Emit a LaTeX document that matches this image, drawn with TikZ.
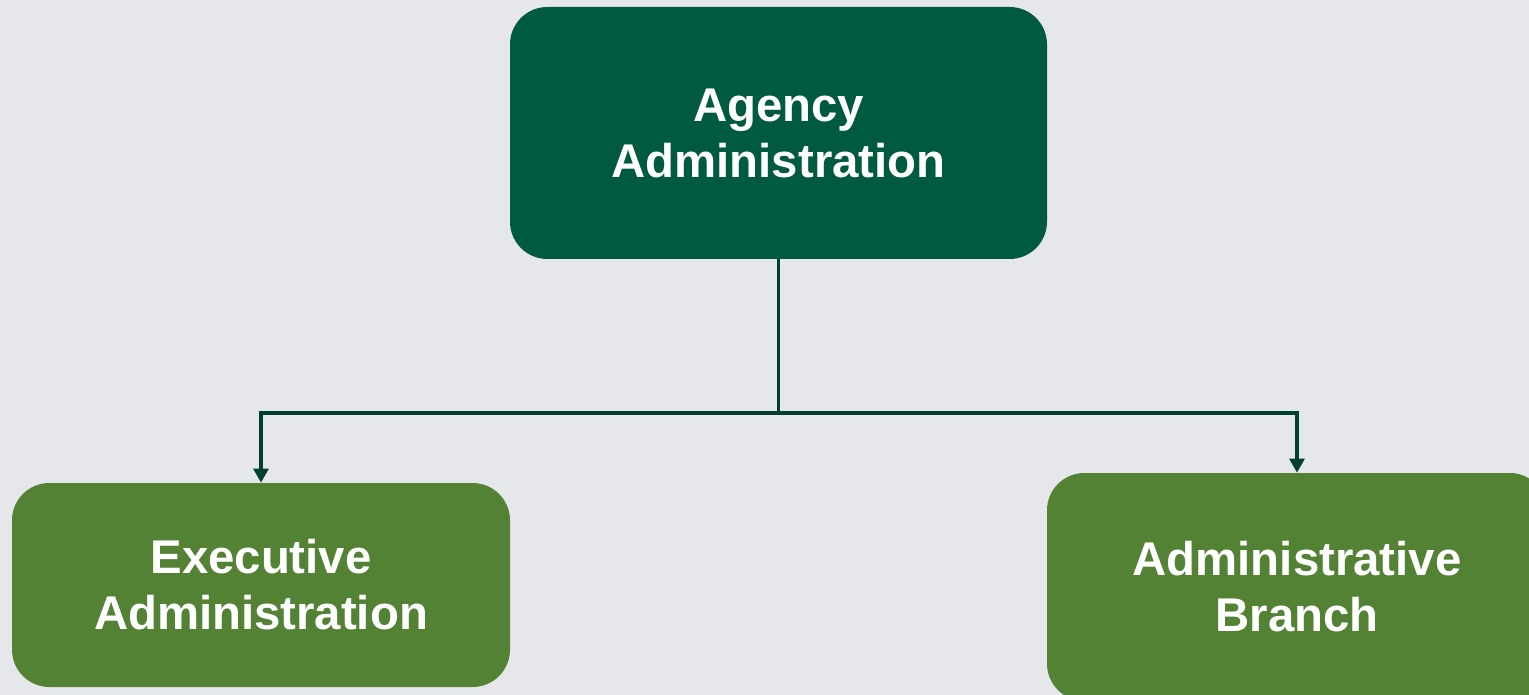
\documentclass[tikz,border=0pt]{standalone}
\usepackage{fontspec}
\setmainfont{Liberation Sans}
\usetikzlibrary{arrows.meta}
\definecolor{bgc}{HTML}{E6E7EB}
\definecolor{topc}{HTML}{005A3F}
\definecolor{subc}{HTML}{548235}
\definecolor{linec}{HTML}{00402F}
\tikzset{
  box/.style={rounded corners=28pt, inner sep=0pt, align=center, text=white,
    font=\fontsize{35.5}{42}\selectfont\bfseries},
  conn/.style={draw=linec, line width=2.6pt},
  arr/.style={conn, -{Triangle[width=11pt,length=10.5pt]}}
}
\begin{document}
\begin{tikzpicture}[x=0.75pt,y=-0.75pt]
\fill[bgc] (0,0) rectangle (1529,695);
\useasboundingbox (0,0) rectangle (1529,695);
\begin{scope}
\clip (0,0) rectangle (1529,695);
\node[box, fill=topc, minimum width=537*0.75pt, minimum height=252*0.75pt] (top) at (778.5,133) {Agency\\Administration};
\node[box, fill=subc, minimum width=498*0.75pt, minimum height=204*0.75pt] (exec) at (261,585) {Executive\\Administration};
\node[box, fill=subc, minimum width=500*0.75pt, minimum height=228*0.75pt] (branch) at (1297,587) {Administrative\\Branch};
\end{scope}
\coordinate (junc) at (778.5,413);
\draw[conn] (top.south) -- (junc);
\draw[arr] (junc) -| (exec.north);
\draw[arr] (junc) -| (branch.north);
\end{tikzpicture}
\end{document}
